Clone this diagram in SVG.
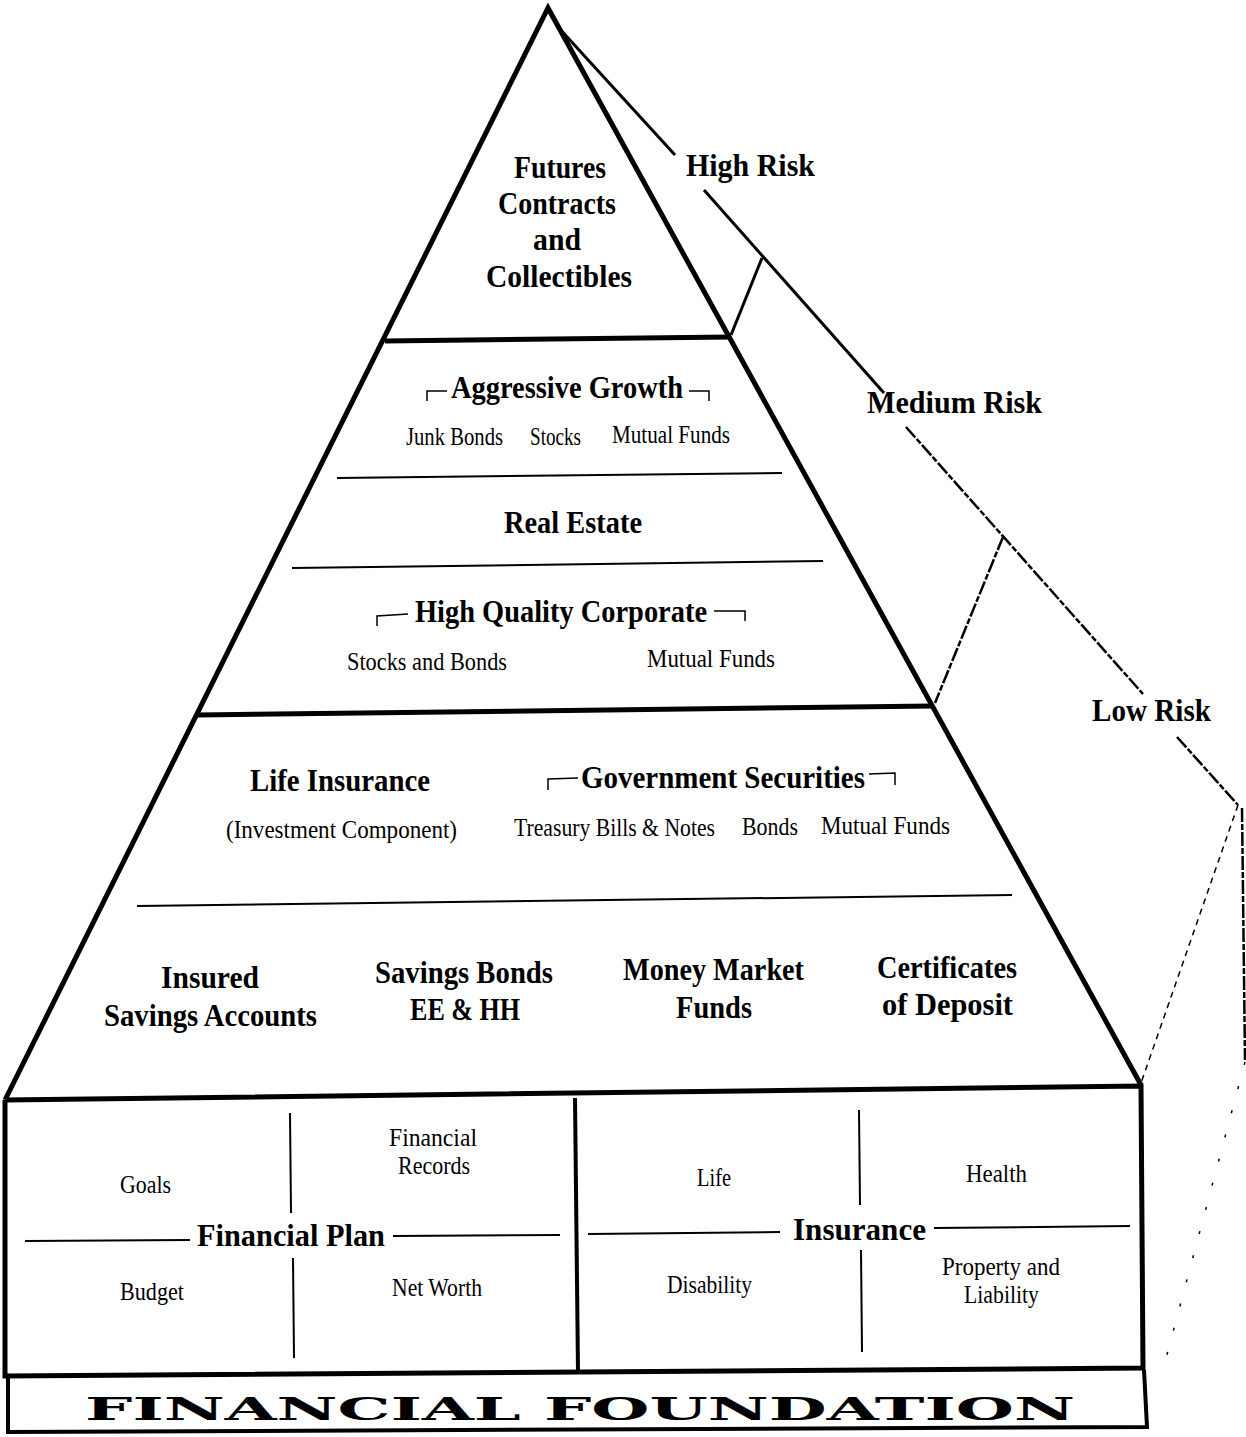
<svg xmlns="http://www.w3.org/2000/svg" width="1246" height="1437" viewBox="0 0 1246 1437">
<style>
text{font-family:"Liberation Serif","Times New Roman",serif;fill:#000}
.b{font-size:32px;font-weight:bold}
.r{font-size:25px}
.f{font-family:"DejaVu Serif","Liberation Serif",serif;font-size:31px;font-weight:900}
.thick{fill:none;stroke:#000;stroke-width:5;stroke-linejoin:miter}
.mid{fill:none;stroke:#000;stroke-width:4}
.thin{fill:none;stroke:#000;stroke-width:2}
.hair{fill:none;stroke:#000;stroke-width:1.5}
.risk{fill:none;stroke:#000;stroke-width:3}
.riskd{fill:none;stroke:#000;stroke-width:2.5;stroke-dasharray:14 2 6 2}
.faint{fill:none;stroke:#000;stroke-width:1.5;stroke-dasharray:6 5}
.dots{fill:none;stroke:#000;stroke-width:1.5;stroke-dasharray:3 22}
</style>

<g id="pyramid-outline">
<polyline class="thick" points="5,1100 548,8 1141,1085"/>
</g>

<g id="tier-high-risk">
<line class="thick" x1="385" y1="341" x2="731" y2="337"/>
<text class="b" x="514" y="178" textLength="92" lengthAdjust="spacingAndGlyphs">Futures</text>
<text class="b" x="498" y="214" textLength="118" lengthAdjust="spacingAndGlyphs">Contracts</text>
<text class="b" x="533" y="250" textLength="48" lengthAdjust="spacingAndGlyphs">and</text>
<text class="b" x="486" y="287" textLength="146" lengthAdjust="spacingAndGlyphs">Collectibles</text>
</g>

<g id="tier-medium-risk">
<line class="thick" x1="198" y1="715" x2="933" y2="706"/>
<line class="thin" x1="337" y1="478" x2="782" y2="473"/>
<line class="thin" x1="292" y1="568" x2="823" y2="561"/>
<polyline class="hair" points="427,401 427,391 447,391"/>
<text class="b" x="451" y="398" textLength="232" lengthAdjust="spacingAndGlyphs">Aggressive Growth</text>
<polyline class="hair" points="689,391 709,391 709,401"/>
<text class="r" x="406" y="445" textLength="97" lengthAdjust="spacingAndGlyphs">Junk Bonds</text>
<text class="r" x="530" y="445" textLength="51" lengthAdjust="spacingAndGlyphs">Stocks</text>
<text class="r" x="612" y="443" textLength="118" lengthAdjust="spacingAndGlyphs">Mutual Funds</text>
<text class="b" x="504" y="533" textLength="138" lengthAdjust="spacingAndGlyphs">Real Estate</text>
<polyline class="hair" points="377,626 377,616 408,614"/>
<text class="b" x="415" y="622" textLength="292" lengthAdjust="spacingAndGlyphs">High Quality Corporate</text>
<polyline class="hair" points="714,611 745,611 745,621"/>
<text class="r" x="347" y="670" textLength="160" lengthAdjust="spacingAndGlyphs">Stocks and Bonds</text>
<text class="r" x="647" y="667" textLength="128" lengthAdjust="spacingAndGlyphs">Mutual Funds</text>
</g>

<g id="tier-low-risk">
<line class="thin" x1="137" y1="906" x2="1012" y2="895"/>
<text class="b" x="250" y="791" textLength="180" lengthAdjust="spacingAndGlyphs">Life Insurance</text>
<text class="r" x="226" y="838" textLength="231" lengthAdjust="spacingAndGlyphs">(Investment Component)</text>
<polyline class="hair" points="548,790 548,779 578,778"/>
<text class="b" x="581" y="788" textLength="284" lengthAdjust="spacingAndGlyphs">Government Securities</text>
<polyline class="hair" points="869,774 895,773 895,785"/>
<text class="r" x="514" y="836" textLength="201" lengthAdjust="spacingAndGlyphs">Treasury Bills &amp; Notes</text>
<text class="r" x="742" y="835" textLength="56" lengthAdjust="spacingAndGlyphs">Bonds</text>
<text class="r" x="821" y="834" textLength="129" lengthAdjust="spacingAndGlyphs">Mutual Funds</text>
<text class="b" x="161" y="988" textLength="98" lengthAdjust="spacingAndGlyphs">Insured</text>
<text class="b" x="104" y="1026" textLength="213" lengthAdjust="spacingAndGlyphs">Savings Accounts</text>
<text class="b" x="375" y="983" textLength="178" lengthAdjust="spacingAndGlyphs">Savings Bonds</text>
<text class="b" x="410" y="1020" textLength="110" lengthAdjust="spacingAndGlyphs">EE &amp; HH</text>
<text class="b" x="623" y="980" textLength="181" lengthAdjust="spacingAndGlyphs">Money Market</text>
<text class="b" x="676" y="1018" textLength="76" lengthAdjust="spacingAndGlyphs">Funds</text>
<text class="b" x="877" y="978" textLength="140" lengthAdjust="spacingAndGlyphs">Certificates</text>
<text class="b" x="882" y="1015" textLength="131" lengthAdjust="spacingAndGlyphs">of Deposit</text>
</g>

<g id="base-box">
<polyline class="thick" points="5,1100 1141,1086 1143,1368 5,1376 5,1100"/>
<line class="mid" x1="575" y1="1098" x2="578" y2="1372"/>
</g>

<g id="financial-plan">
<line class="thin" x1="25" y1="1241" x2="190" y2="1240"/>
<line class="thin" x1="393" y1="1236" x2="560" y2="1235"/>
<line class="thin" x1="290" y1="1113" x2="291" y2="1213"/>
<line class="thin" x1="293" y1="1258" x2="294" y2="1358"/>
<text class="b" x="197" y="1246" textLength="188" lengthAdjust="spacingAndGlyphs">Financial Plan</text>
<text class="r" x="120" y="1193" textLength="51" lengthAdjust="spacingAndGlyphs">Goals</text>
<text class="r" x="389" y="1146" textLength="88" lengthAdjust="spacingAndGlyphs">Financial</text>
<text class="r" x="398" y="1174" textLength="72" lengthAdjust="spacingAndGlyphs">Records</text>
<text class="r" x="120" y="1300" textLength="64" lengthAdjust="spacingAndGlyphs">Budget</text>
<text class="r" x="392" y="1296" textLength="90" lengthAdjust="spacingAndGlyphs">Net Worth</text>
</g>

<g id="insurance">
<line class="thin" x1="588" y1="1234" x2="780" y2="1232"/>
<line class="thin" x1="934" y1="1228" x2="1130" y2="1226"/>
<line class="thin" x1="859" y1="1110" x2="860" y2="1205"/>
<line class="thin" x1="861" y1="1250" x2="862" y2="1352"/>
<text class="b" x="793" y="1240" textLength="133" lengthAdjust="spacingAndGlyphs">Insurance</text>
<text class="r" x="697" y="1186" textLength="34" lengthAdjust="spacingAndGlyphs">Life</text>
<text class="r" x="966" y="1182" textLength="61" lengthAdjust="spacingAndGlyphs">Health</text>
<text class="r" x="667" y="1293" textLength="85" lengthAdjust="spacingAndGlyphs">Disability</text>
<text class="r" x="942" y="1275" textLength="118" lengthAdjust="spacingAndGlyphs">Property and</text>
<text class="r" x="964" y="1303" textLength="75" lengthAdjust="spacingAndGlyphs">Liability</text>
</g>

<g id="foundation">
<polyline class="mid" points="8,1376 8,1432 1147,1427 1144,1370"/>
<text class="f" x="85" y="1420" textLength="990" lengthAdjust="spacingAndGlyphs">FINANCIAL FOUNDATION</text>
</g>

<g id="risk-labels">
<text class="b" x="686" y="176" textLength="129" lengthAdjust="spacingAndGlyphs">High Risk</text>
<text class="b" x="867" y="413" textLength="175" lengthAdjust="spacingAndGlyphs">Medium Risk</text>
<text class="b" x="1092" y="721" textLength="119" lengthAdjust="spacingAndGlyphs">Low Risk</text>
</g>

<g id="connectors">
<line class="risk" x1="558" y1="27" x2="675" y2="155"/>
<line class="risk" x1="704" y1="190" x2="884" y2="393"/>
<line class="risk" x1="762" y1="258" x2="731" y2="335"/>
<line class="riskd" x1="906" y1="427" x2="1143" y2="694"/>
<line class="riskd" x1="1003" y1="537" x2="935" y2="703"/>
<line class="riskd" x1="1177" y1="737" x2="1238" y2="805"/>
<line class="faint" x1="1238" y1="805" x2="1141" y2="1083"/>
<line class="riskd" x1="1242" y1="808" x2="1245" y2="1060"/>
<line class="dots" x1="1245" y1="1062" x2="1165" y2="1362"/>
</g>
</svg>
